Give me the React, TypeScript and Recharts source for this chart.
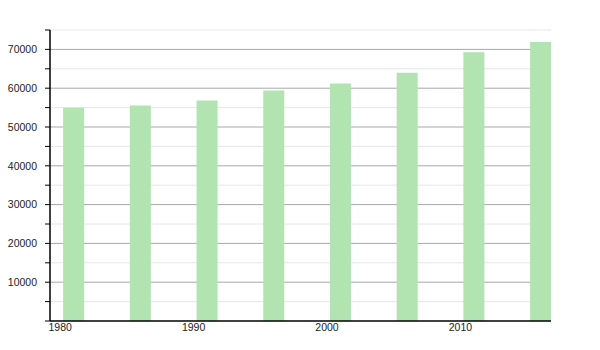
import React from "react";
import { ComposedChart, Bar, XAxis, YAxis, CartesianGrid } from "recharts";

const years = [1981, 1986, 1991, 1996, 2001, 2006, 2011, 2016];
const population = [54950, 55550, 56800, 59400, 61200, 64000, 69250, 71900];
const xTicks = [1980, 1990, 2000, 2010];
const yTicks = [0, 5000, 10000, 15000, 20000, 25000, 30000, 35000, 40000, 45000, 50000, 55000, 60000, 65000, 70000, 75000];
const majorValues = [10000, 20000, 30000, 40000, 50000, 60000, 70000];
const minorValues = [5000, 15000, 25000, 35000, 45000, 55000, 65000, 75000];
const yMax = 75000;

const data = years.map((y, i) => ({ year: y, pop: population[i] }));

const FONT = "'Liberation Sans', Arial, sans-serif";

export default function App() {
  const gen = (vals: number[]) => (args: any) => {
    const s = args.yAxis && args.yAxis.scale;
    if (typeof s === "function") return vals.map((v) => s(v));
    const o = args.offset;
    return vals.map((v) => o.top + o.height * (1 - v / yMax));
  };
  return (
    <div style={{ position: "absolute", left: 0, top: 0, width: 600, height: 350, background: "#fff" }}>
      <ComposedChart
        width={600}
        height={350}
        data={data}
        margin={{ top: 30, right: 49, bottom: 9, left: 0 }}
      >
        <CartesianGrid
          vertical={false}
          stroke="#e6e6e6"
          strokeWidth={1}
          horizontalCoordinatesGenerator={gen(minorValues)}
        />
        <CartesianGrid
          vertical={false}
          stroke="#a8a8a8"
          strokeWidth={1}
          horizontalCoordinatesGenerator={gen(majorValues)}
        />
        <XAxis
          dataKey="year"
          type="number"
          domain={[1979.24, 2016.79]}
          allowDataOverflow
          ticks={xTicks}
          interval={0}
          height={20}
          tickLine={false}
          tickSize={0}
          tickMargin={3}
          axisLine={{ stroke: "#000", strokeWidth: 1.5 }}
          tick={{ fill: "#222", fontSize: 10.5, fontFamily: FONT }}
        />
        <YAxis
          type="number"
          domain={[0, yMax]}
          ticks={yTicks}
          interval={0}
          width={50}
          tickSize={5}
          tickMargin={8}
          tickLine={{ stroke: "#000" }}
          axisLine={{ stroke: "#000", strokeWidth: 1.5 }}
          tick={{ fill: "#222", fontSize: 10.5, fontFamily: FONT }}
          tickFormatter={(v: number) => (v > 0 && v % 10000 === 0 ? String(v) : "")}
        />
        <Bar dataKey="pop" fill="#b1e4b1" barSize={21} isAnimationActive={false} />
      </ComposedChart>
    </div>
  );
}
